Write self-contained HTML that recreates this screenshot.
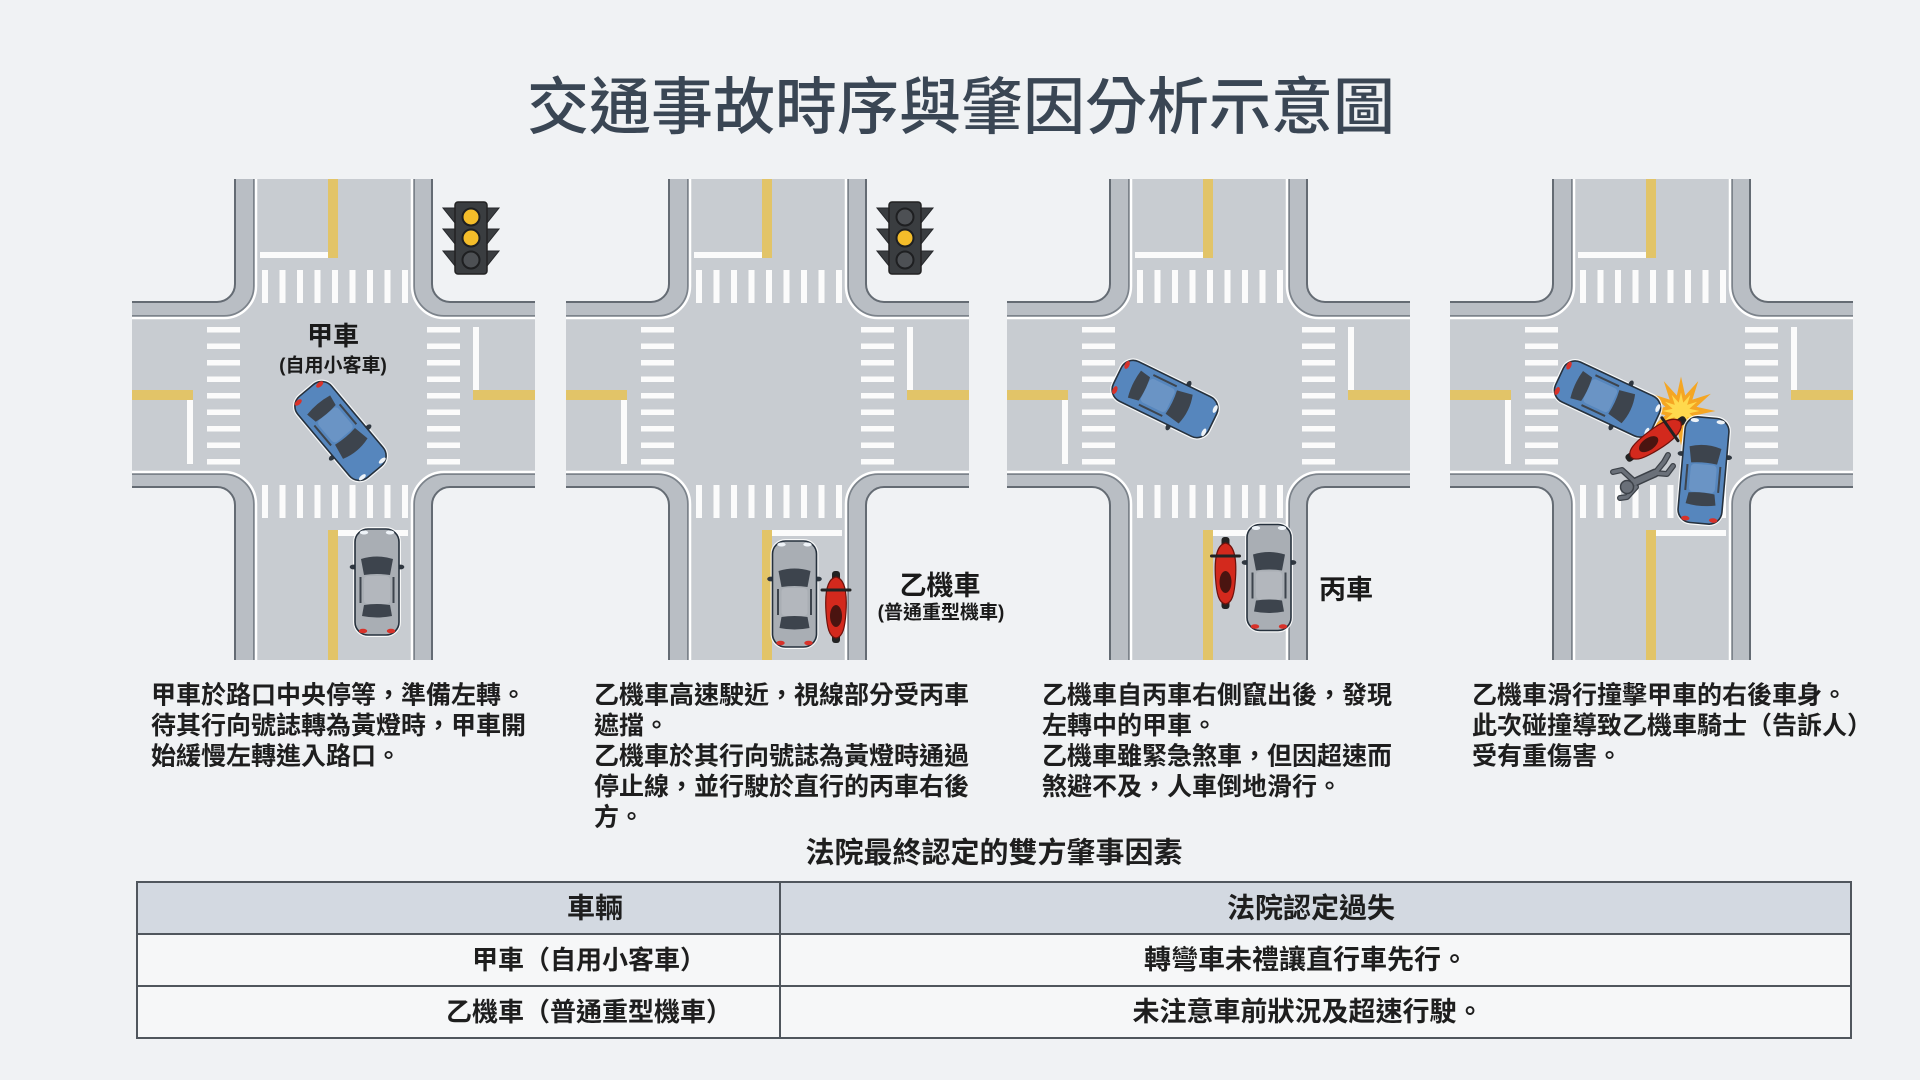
<!DOCTYPE html>
<html>
<head>
<meta charset="utf-8">
<style>
html,body{margin:0;padding:0;width:1920px;height:1080px;overflow:hidden;background:#f0f2f4}
svg{display:block}
text{font-family:"Liberation Sans","Noto Sans CJK TC","Noto Sans CJK SC",sans-serif}
</style>
</head>
<body>
<svg width="1920" height="1080" viewBox="0 0 1920 1080" xmlns="http://www.w3.org/2000/svg">
<defs>
  <clipPath id="pc"><rect x="0" y="0" width="403" height="481"/></clipPath>
  <g id="road" clip-path="url(#pc)">
    <path d="M103,-5 L103,105 A18 18 0 0 1 85,123 L-5,123 L-5,308 L85,308 A18 18 0 0 1 103,326 L103,486 L300,486 L300,326 A18 18 0 0 1 318,308 L408,308 L408,123 L318,123 A18 18 0 0 1 300,105 L300,-5 Z" fill="#b9bec4" stroke="#646b73" stroke-width="2"/>
    <path d="M124,-5 L124,107 A32 32 0 0 1 92,139 L-5,139 L-5,293 L92,293 A32 32 0 0 1 124,325 L124,486 L280,486 L280,325 A32 32 0 0 1 312,293 L408,293 L408,139 L312,139 A32 32 0 0 1 280,107 L280,-5 Z" fill="none" stroke="#7c838b" stroke-width="6"/>
    <path d="M124,-5 L124,107 A32 32 0 0 1 92,139 L-5,139 L-5,293 L92,293 A32 32 0 0 1 124,325 L124,486 L280,486 L280,325 A32 32 0 0 1 312,293 L408,293 L408,139 L312,139 A32 32 0 0 1 280,107 L280,-5 Z" fill="#c8ccd1" stroke="#ffffff" stroke-width="2.5"/>
    <g fill="#e2c468">
      <rect x="196" y="-5" width="10" height="84"/>
      <rect x="196" y="351" width="10" height="135"/>
      <rect x="-5" y="211" width="66" height="10"/>
      <rect x="341" y="211" width="67" height="10"/>
    </g>
    <g fill="#fbfbfb">
      <rect x="128" y="73" width="68" height="6"/>
      <rect x="206" y="351" width="70" height="6"/>
      <rect x="55" y="221" width="6" height="64"/>
      <rect x="341" y="148" width="6" height="63"/>
    </g>
    <g fill="#fbfbfb">
      <rect x="130" y="91" width="6" height="33"/><rect x="147.5" y="91" width="6" height="33"/><rect x="165" y="91" width="6" height="33"/><rect x="182.5" y="91" width="6" height="33"/><rect x="200" y="91" width="6" height="33"/><rect x="217.5" y="91" width="6" height="33"/><rect x="235" y="91" width="6" height="33"/><rect x="252.5" y="91" width="6" height="33"/><rect x="270" y="91" width="6" height="33"/>
      <rect x="130" y="306" width="6" height="33"/><rect x="147.5" y="306" width="6" height="33"/><rect x="165" y="306" width="6" height="33"/><rect x="182.5" y="306" width="6" height="33"/><rect x="200" y="306" width="6" height="33"/><rect x="217.5" y="306" width="6" height="33"/><rect x="235" y="306" width="6" height="33"/><rect x="252.5" y="306" width="6" height="33"/><rect x="270" y="306" width="6" height="33"/>
      <rect x="75" y="148" width="33" height="5.5"/><rect x="75" y="164.5" width="33" height="5.5"/><rect x="75" y="181" width="33" height="5.5"/><rect x="75" y="197.5" width="33" height="5.5"/><rect x="75" y="214" width="33" height="5.5"/><rect x="75" y="230.5" width="33" height="5.5"/><rect x="75" y="247" width="33" height="5.5"/><rect x="75" y="263.5" width="33" height="5.5"/><rect x="75" y="280" width="33" height="5.5"/>
      <rect x="295" y="148" width="33" height="5.5"/><rect x="295" y="164.5" width="33" height="5.5"/><rect x="295" y="181" width="33" height="5.5"/><rect x="295" y="197.5" width="33" height="5.5"/><rect x="295" y="214" width="33" height="5.5"/><rect x="295" y="230.5" width="33" height="5.5"/><rect x="295" y="247" width="33" height="5.5"/><rect x="295" y="263.5" width="33" height="5.5"/><rect x="295" y="280" width="33" height="5.5"/>
    </g>
  </g>

  <g id="tlbody">
    <path d="M323 29 L311 29 L323 44Z M355 29 L367 29 L355 44Z M323 50 L311 50 L323 65Z M355 50 L367 50 L355 65Z M323 72 L311 72 L323 87Z M355 72 L367 72 L355 87Z" fill="#3a3d40" stroke="#25272a" stroke-width="1"/>
    <rect x="323" y="23" width="32" height="72" rx="3" fill="#3a3d40" stroke="#222" stroke-width="1.5"/>
  </g>

  <g id="car">
    <rect x="-24" y="-55" width="48" height="110" rx="15" fill="#ffffff" opacity="0.85"/>
    <ellipse cx="-23.5" cy="-15" rx="3.8" ry="2.4" fill="#2f3740"/>
    <ellipse cx="23.5" cy="-15" rx="3.8" ry="2.4" fill="#2f3740"/>
    <rect x="-22" y="-53" width="44" height="106" rx="13" stroke="#26313d" stroke-width="1.6"/>
    <rect x="-13" y="-6" width="26" height="28" rx="4" fill="#ffffff" opacity="0.12"/>
    <path d="M-16 -23 Q0 -28 16 -23 L13 -7 Q0 -9 -13 -7 Z" fill="#3d444d"/>
    <path d="M-13 23 Q0 21 13 23 L15 34 Q0 37 -15 34 Z" fill="#3d444d"/>
    <path d="M-16.5 -5 L-16.5 21 M16.5 -5 L16.5 21" stroke="#3d444d" stroke-width="2" fill="none"/>
    <ellipse cx="-13" cy="-49.5" rx="4.2" ry="2" fill="#eef3f8"/>
    <ellipse cx="13" cy="-49.5" rx="4.2" ry="2" fill="#eef3f8"/>
    <ellipse cx="-14" cy="49" rx="4.2" ry="2.3" fill="#d8322a"/>
    <ellipse cx="14" cy="49" rx="4.2" ry="2.3" fill="#d8322a"/>
  </g>

  <g id="moto">
    <rect x="-4" y="-36" width="8" height="14" rx="3" fill="#222"/>
    <rect x="-4" y="22" width="8" height="14" rx="3" fill="#222"/>
    <path d="M0 -30 C10 -28 11 -10 10 5 C9 20 7 30 0 31 C-7 30 -9 20 -10 5 C-11 -10 -10 -28 0 -30Z" fill="#d3291d" stroke="#6e120c" stroke-width="1.2"/>
    <line x1="-14" y1="-17" x2="14" y2="-17" stroke="#222" stroke-width="3" stroke-linecap="round"/>
    <ellipse cx="0" cy="9" rx="6" ry="11" fill="#4a1410"/>
  </g>

  <polygon id="star" points="0,-30 3.62,-13.52 15,-25.98 9.9,-9.9 25.98,-15 13.52,-3.62 30,0 13.52,3.62 25.98,15 9.9,9.9 15,25.98 3.62,13.52 0,30 -3.62,13.52 -15,25.98 -9.9,9.9 -25.98,15 -13.52,3.62 -30,0 -13.52,-3.62 -25.98,-15 -9.9,-9.9 -15,-25.98 -3.62,-13.52"/>
</defs>

<text x="961" y="108" text-anchor="middle" dominant-baseline="central" font-size="62" font-weight="500" fill="#3a4654">交通事故時序與肇因分析示意圖</text>

<use href="#road" transform="translate(132,179)"/>
<use href="#road" transform="translate(566,179)"/>
<use href="#road" transform="translate(1007,179)"/>
<use href="#road" transform="translate(1450,179)"/>

<g transform="translate(132,179)">
  <use href="#tlbody"/>
  <circle cx="339" cy="38" r="8.5" fill="#f4bd2a" stroke="#1e1f21" stroke-width="2"/>
  <circle cx="339" cy="59" r="8.5" fill="#f4bd2a" stroke="#1e1f21" stroke-width="2"/>
  <circle cx="339" cy="81" r="8.5" fill="#4d5054" stroke="#1e1f21" stroke-width="2"/>
</g>
<g transform="translate(566,179)">
  <use href="#tlbody"/>
  <circle cx="339" cy="38" r="8.5" fill="#4d5054" stroke="#1e1f21" stroke-width="2"/>
  <circle cx="339" cy="59" r="8.5" fill="#f4bd2a" stroke="#1e1f21" stroke-width="2"/>
  <circle cx="339" cy="81" r="8.5" fill="#4d5054" stroke="#1e1f21" stroke-width="2"/>
</g>

<text x="333" y="336" text-anchor="middle" dominant-baseline="central" font-size="26" font-weight="700" fill="#1a1a1a">甲車</text>
<text x="333" y="366" text-anchor="middle" dominant-baseline="central" font-size="19" font-weight="700" fill="#1a1a1a">(自用小客車)</text>
<use href="#car" fill="#5686bd" transform="translate(340.5,431) rotate(140)"/>
<use href="#car" fill="#a9aeb4" transform="translate(377,582)"/>

<use href="#car" fill="#a9aeb4" transform="translate(794.5,594)"/>
<use href="#moto" transform="translate(836,607)"/>
<text x="940" y="586" text-anchor="middle" dominant-baseline="central" font-size="27" font-weight="700" fill="#1a1a1a">乙機車</text>
<text x="941" y="613" text-anchor="middle" dominant-baseline="central" font-size="19" font-weight="700" fill="#1a1a1a">(普通重型機車)</text>

<use href="#car" fill="#5686bd" transform="translate(1165,399) rotate(116)"/>
<use href="#moto" transform="translate(1225.5,573)"/>
<use href="#car" fill="#a9aeb4" transform="translate(1269,577.5)"/>
<text x="1346" y="590" text-anchor="middle" dominant-baseline="central" font-size="27" font-weight="700" fill="#1a1a1a">丙車</text>

<use href="#star" fill="#f5a623" transform="translate(1681,411) scale(1.15)"/>
<use href="#star" fill="#ffd94d" transform="translate(1681,411) scale(0.62)"/>
<use href="#car" fill="#5686bd" transform="translate(1607.5,399) rotate(115)"/>
<use href="#moto" transform="translate(1656,439) rotate(55)"/>
<use href="#car" fill="#5686bd" transform="translate(1703.5,470.5) rotate(5)"/>
<g stroke="#3c4148" stroke-linecap="round" stroke-linejoin="round" fill="none">
  <path d="M1633 483 L1655 473" stroke-width="9"/>
  <path d="M1634 481 L1622 470 L1613 472" stroke-width="6"/>
  <path d="M1636 487 L1627 497 L1620 498" stroke-width="6"/>
  <path d="M1655 473 L1664 462 L1668 455" stroke-width="6"/>
  <path d="M1655 473 L1667 474 L1673 466" stroke-width="6"/>
</g>
<g stroke="#6a7079" stroke-linecap="round" stroke-linejoin="round" fill="none">
  <path d="M1633 483 L1655 473" stroke-width="6"/>
  <path d="M1634 481 L1622 470 L1613 472" stroke-width="3.5"/>
  <path d="M1636 487 L1627 497 L1620 498" stroke-width="3.5"/>
  <path d="M1655 473 L1664 462 L1668 455" stroke-width="3.5"/>
  <path d="M1655 473 L1667 474 L1673 466" stroke-width="3.5"/>
</g>
<circle cx="1627" cy="487" r="6.5" fill="#6a7079" stroke="#3c4148" stroke-width="1.5"/>

<g font-size="25" font-weight="700" fill="#1e1e1e" dominant-baseline="central">
  <text x="151" y="695.5">甲車於路口中央停等，準備左轉。</text>
  <text x="151" y="726">待其行向號誌轉為黃燈時，甲車開</text>
  <text x="151" y="756.5">始緩慢左轉進入路口。</text>

  <text x="594" y="695.5">乙機車高速駛近，視線部分受丙車</text>
  <text x="594" y="726">遮擋。</text>
  <text x="594" y="756.5">乙機車於其行向號誌為黃燈時通過</text>
  <text x="594" y="787">停止線，並行駛於直行的丙車右後</text>
  <text x="594" y="817.5">方。</text>

  <text x="1042" y="695.5">乙機車自丙車右側竄出後，發現</text>
  <text x="1042" y="726">左轉中的甲車。</text>
  <text x="1042" y="756.5">乙機車雖緊急煞車，但因超速而</text>
  <text x="1042" y="787">煞避不及，人車倒地滑行。</text>

  <text x="1472" y="695.5">乙機車滑行撞擊甲車的右後車身。</text>
  <text x="1472" y="726">此次碰撞導致乙機車騎士（告訴人）</text>
  <text x="1472" y="756.5">受有重傷害。</text>
</g>

<text x="994" y="853.5" text-anchor="middle" dominant-baseline="central" font-size="29" font-weight="700" fill="#1e1e1e">法院最終認定的雙方肇事因素</text>

<rect x="137" y="882" width="1714" height="52" fill="#d3d9e1"/>
<rect x="137" y="934" width="1714" height="104" fill="#f6f7f8"/>
<g stroke="#50565d" stroke-width="2" fill="none">
  <rect x="137" y="882" width="1714" height="156"/>
  <line x1="137" y1="934" x2="1851" y2="934"/>
  <line x1="137" y1="986" x2="1851" y2="986"/>
  <line x1="780" y1="882" x2="780" y2="1038"/>
</g>
<g text-anchor="middle" dominant-baseline="central" fill="#1e1e1e">
  <text x="595" y="908" font-size="28" font-weight="700">車輛</text>
  <text x="1311" y="908" font-size="28" font-weight="700">法院認定過失</text>
  <text x="589" y="960" font-size="26" font-weight="700">甲車（自用小客車）</text>
  <text x="1306" y="960" font-size="27" font-weight="700">轉彎車未禮讓直行車先行。</text>
  <text x="589" y="1012" font-size="26" font-weight="700">乙機車（普通重型機車）</text>
  <text x="1308" y="1012" font-size="27" font-weight="700">未注意車前狀況及超速行駛。</text>
</g>
</svg>
</body>
</html>
